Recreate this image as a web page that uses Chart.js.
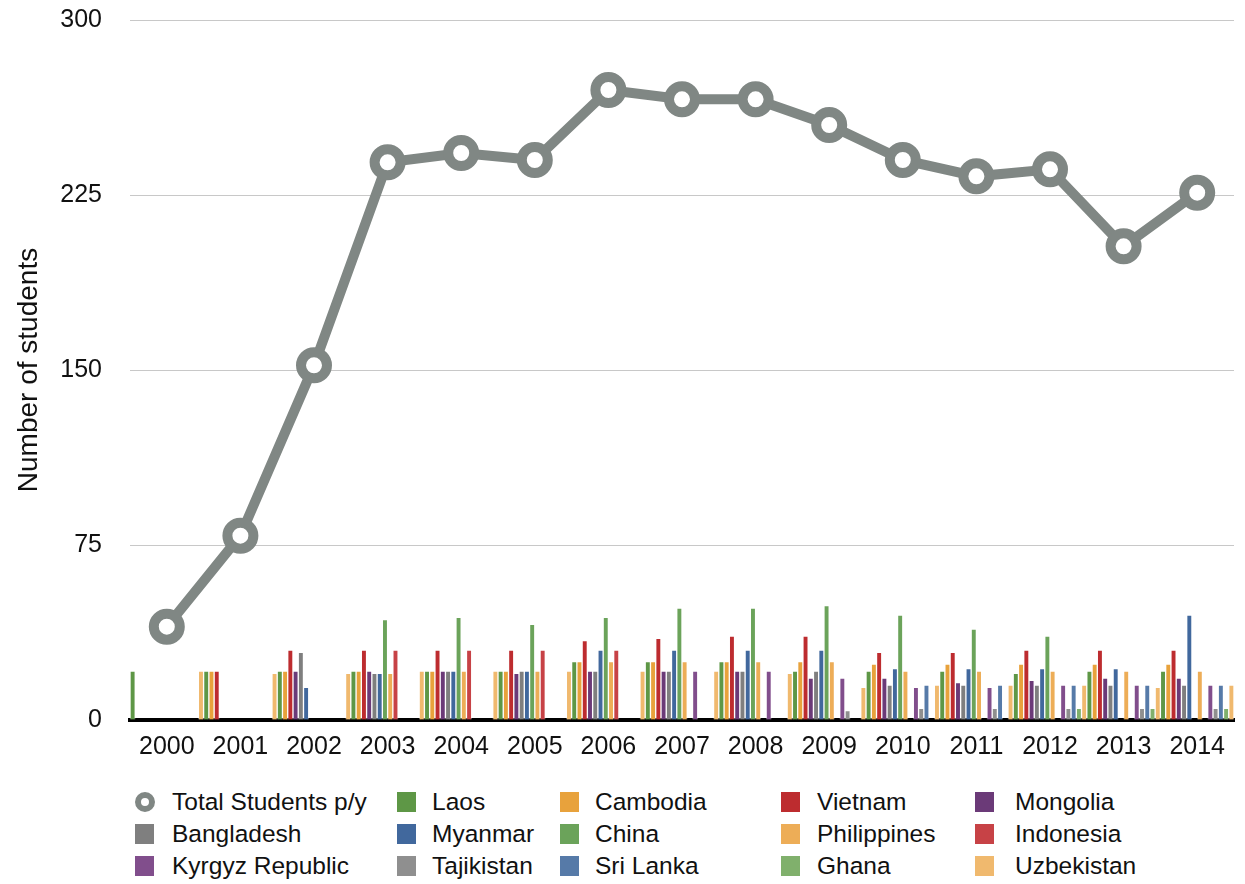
<!DOCTYPE html>
<html>
<head>
<meta charset="utf-8">
<script src="https://cdn.jsdelivr.net/npm/chart.js@4.4.1/dist/chart.umd.min.js"></script>
<style>
  html, body { margin: 0; padding: 0; background: #fff; overflow: hidden; }
  #wrap { position: relative; width: 1245px; height: 884px; overflow: hidden; font-family: "Liberation Sans", Arial, sans-serif; }
  /* canvas a bit wider than the page: the line's point overflow padding eats the right edge */
  #plot { position: absolute; left: 0; top: -3px; width: 1257px; height: 773px; }
  #legend { position: absolute; left: 0; top: 786px; width: 1245px; height: 98px; }
  .item { position: absolute; height: 32px; display: flex; align-items: center; font-size: 24.5px; color: #111; white-space: nowrap; }
  .sw { position: absolute; top: 6px; width: 19px; height: 20px; box-sizing: border-box; }
  .ring { width: 20px; height: 20px; border-radius: 50%; border: 6px solid #808784; background: #fff; }
</style>
</head>
<body>
<div id="wrap">
  <div id="plot"><canvas id="chart"></canvas></div>
  <div id="legend"></div>
</div>
<script>
// ── Data ─────────────────────────────────────────────────────────────
const years = ['2000','2001','2002','2003','2004','2005','2006','2007','2008','2009','2010','2011','2012','2013','2014'];

const total       = [40, 79, 152, 239, 243, 240, 270, 266, 266, 255, 240, 233, 236, 203, 226];
const laos        = [21, 21, 21, 21, 21, 21, 25, 25, 25, 21, 21, 21, 20, 21, 21];
const cambodia    = [0, 21, 21, 21, 21, 21, 25, 25, 25, 25, 24, 24, 24, 24, 24];
const vietnam     = [0, 21, 30, 30, 30, 30, 34, 35, 36, 36, 29, 29, 30, 30, 30];
const mongolia    = [0, 0, 21, 21, 21, 20, 21, 21, 21, 18, 18, 16, 17, 18, 18];
const bangladesh  = [0, 0, 29, 20, 21, 21, 21, 21, 21, 21, 15, 15, 15, 15, 15];
const myanmar     = [0, 0, 14, 20, 21, 21, 30, 30, 30, 30, 22, 22, 22, 22, 45];
const china       = [0, 0, 0, 43, 44, 41, 44, 48, 48, 49, 45, 39, 36, 0, 0];
const philippines = [0, 0, 0, 20, 21, 21, 25, 25, 25, 25, 21, 21, 21, 21, 21];
const indonesia   = [0, 0, 0, 30, 30, 30, 30, 0, 0, 0, 0, 0, 0, 0, 0];
const kyrgyz      = [0, 0, 0, 0, 0, 0, 0, 21, 21, 18, 14, 14, 15, 15, 15];
const tajikistan  = [0, 0, 0, 0, 0, 0, 0, 0, 0, 4, 5, 5, 5, 5, 5];
const sriLanka    = [0, 0, 0, 0, 0, 0, 0, 0, 0, 0, 15, 15, 15, 15, 15];
const ghana       = [0, 0, 0, 0, 0, 0, 0, 0, 0, 0, 0, 0, 5, 5, 5];
const uzbekistan  = [21, 20, 20, 21, 21, 21, 21, 21, 20, 14, 15, 15, 15, 14, 15];

const countries = [
  ['Laos', laos, '#5e9746'],
  ['Cambodia', cambodia, '#e8a23c'],
  ['Vietnam', vietnam, '#bd2c2f'],
  ['Mongolia', mongolia, '#6b3a78'],
  ['Bangladesh', bangladesh, '#7f7f7f'],
  ['Myanmar', myanmar, '#41689d'],
  ['China', china, '#6ba35a'],
  ['Philippines', philippines, '#edad57'],
  ['Indonesia', indonesia, '#c74246'],
  ['Kyrgyz Republic', kyrgyz, '#814e8c'],
  ['Tajikistan', tajikistan, '#8f8f8f'],
  ['Sri Lanka', sriLanka, '#567aa8'],
  ['Ghana', ghana, '#80b06c'],
  ['Uzbekistan', uzbekistan, '#f0b96e'],
];
const lineColor = '#808784';

// ── Chart ────────────────────────────────────────────────────────────
const datasets = [{
  type: 'line',
  label: 'Total Students p/y',
  data: total,
  borderColor: lineColor,
  borderWidth: 10,
  pointRadius: 13,
  pointBorderWidth: 10,
  pointBackgroundColor: '#fff',
  pointBorderColor: lineColor,
  tension: 0,
  order: 0,
}].concat(countries.map(([name, vals, color]) => ({
  type: 'bar',
  label: name,
  data: vals,
  backgroundColor: color,
  borderColor: 'rgba(255,255,255,0.35)',
  borderWidth: 1,
  categoryPercentage: 1,
  barPercentage: 1,
  order: 1,
})));

const family = '"Liberation Sans", Arial, sans-serif';
const tickFont = { family, size: 25 };

const chart = new Chart(document.getElementById('chart'), {
  type: 'bar',
  data: { labels: years, datasets },
  options: {
    responsive: true,
    maintainAspectRatio: false,
    animation: false,
    layout: { padding: { left: 0, right: 0, top: 19, bottom: 0 } },
    plugins: { legend: { display: false }, tooltip: { enabled: false } },
    scales: {
      x: {
        grid: { display: false },
        border: { color: '#000', width: 4 },
        ticks: { color: '#111', font: tickFont, padding: 4 },
        afterFit: s => { s.height = 50; },
      },
      y: {
        min: 0, max: 300,
        ticks: { stepSize: 75, color: '#111', font: tickFont, padding: 28 },
        grid: { color: '#c8c8c8', lineWidth: 1, drawTicks: false },
        border: { display: false },
        title: { display: true, text: 'Number of students', color: '#111', font: { family, size: 28 }, padding: { top: 12, bottom: 0 } },
        afterFit: s => { s.width = 130; s.paddingTop = 0; s.paddingBottom = 0; },
      },
    },
  },
});

// ── Legend (5 columns x 3 rows, row-major like the original) ─────────
const legendItems = [['Total Students p/y', null, lineColor]].concat(countries);
const colSwatch = [135, 397, 560, 781, 975];
const colText   = [172, 432, 595, 817, 1015];
const legend = document.getElementById('legend');
legendItems.forEach(([name, , color], i) => {
  const col = i % 5, row = Math.floor(i / 5);
  const sw = document.createElement('div');
  sw.className = 'sw' + (i === 0 ? ' ring' : '');
  sw.style.left = colSwatch[col] + 'px';
  sw.style.top = (row * 32 + 6) + 'px';
  if (i > 0) sw.style.background = color;
  legend.appendChild(sw);
  const it = document.createElement('div');
  it.className = 'item';
  it.style.left = colText[col] + 'px';
  it.style.top = (row * 32) + 'px';
  it.textContent = name;
  legend.appendChild(it);
});
</script>
</body>
</html>
